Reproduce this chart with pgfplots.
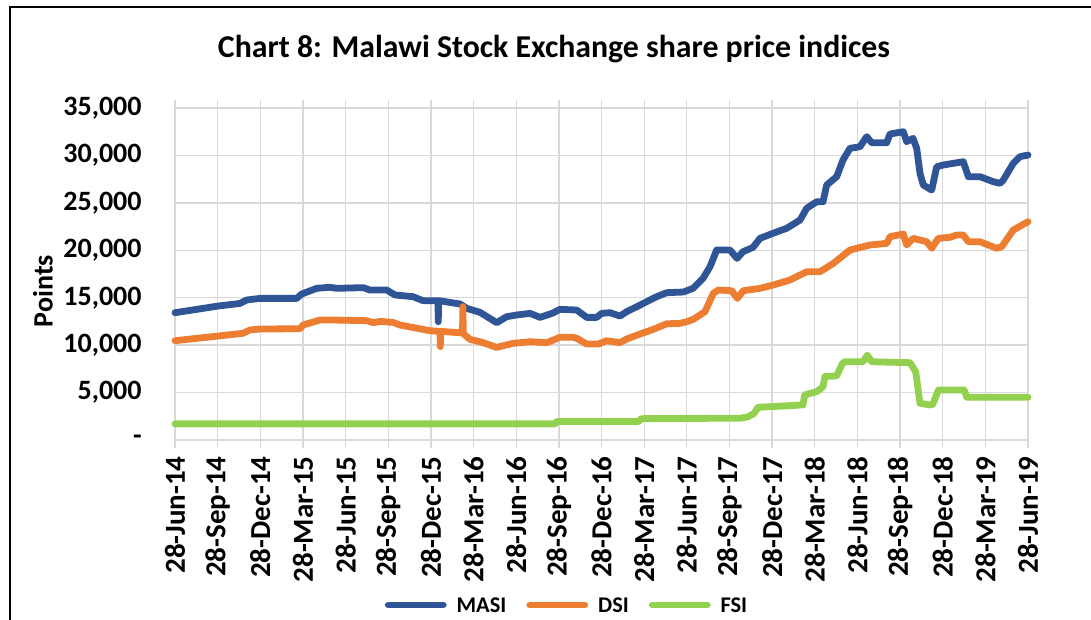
\documentclass[border=0pt]{standalone}
\usepackage{fontspec}
\setmainfont{Carlito}
\usepackage{pgfplots}
\pgfplotsset{compat=1.18}
\definecolor{masi}{HTML}{2F5597}
\definecolor{dsi}{HTML}{ED7D31}
\definecolor{fsi}{HTML}{92D050}
\definecolor{gridc}{HTML}{D9D9D9}
\begin{document}
\begin{tikzpicture}
\useasboundingbox (0,0) rectangle (545.5pt,-310pt);
\draw[line width=1pt, black] (5pt,-312pt) -- (5pt,-3.5pt) -- (548pt,-3.5pt);
\node[font=\bfseries\fontsize{15.9}{18}\selectfont] at (277pt,-24.5pt) {Chart 8: Malawi Stock Exchange share price indices};
\node[font=\bfseries\fontsize{14}{16}\selectfont, rotate=90] at (21.5pt,-145.5pt) {Points};
\begin{axis}[
  at={(87.5pt,-220pt)}, anchor=south west,
  scale only axis, width=426.5pt, height=166pt,
  xmin=0, xmax=60, ymin=0, ymax=35000,
  clip=false,
  scaled y ticks=false,
  axis line style={draw=gridc, line width=0.65pt},
  grid=major,
  grid style={draw=gridc, line width=0.65pt},
  tick align=outside,
  major tick length=4pt,
  xtick style={draw=gridc, line width=0.65pt},
  ytick style={draw=none},
  xtick={0,3,...,60},
  xticklabels={28-Jun-14,28-Sep-14,28-Dec-14,28-Mar-15,28-Jun-15,28-Sep-15,28-Dec-15,28-Mar-16,28-Jun-16,28-Sep-16,28-Dec-16,28-Mar-17,28-Jun-17,28-Sep-17,28-Dec-17,28-Mar-18,28-Jun-18,28-Sep-18,28-Dec-18,28-Mar-19,28-Jun-19},
  ytick={0,5000,...,35000},
  yticklabels={-,{5,000},{10,000},{15,000},{20,000},{25,000},{30,000},{35,000}},
  xticklabel style={yshift=-4pt, rotate=90, anchor=east, inner sep=0pt, font=\bfseries\fontsize{14.5}{16}\selectfont},
  yticklabel style={anchor=east, inner sep=0pt, xshift=-12.5pt, font=\bfseries\fontsize{14}{16}\selectfont},
  legend columns=3,
  legend style={at={(0.4584,-0.497)}, anchor=center, draw=none, fill=none, inner sep=0pt,
    font=\bfseries\fontsize{11.2}{13}\selectfont,
    /tikz/every even column/.append style={column sep=10pt},
    nodes={inner sep=0pt, text depth=0pt}},
  legend image code/.code={\draw[#1, line cap=round] (0pt,0pt) -- (27.5pt,0pt); \path (32.5pt,0pt);},
  every axis plot/.append style={line width=3.4pt, line join=round, line cap=round},
]
\addplot[masi] coordinates {
(0,13420) (3.025,14120) (4.572,14400) (5.043,14760) (5.979,14930) (8.560,14930) (8.912,15390) (9.967,15990) (10.903,16100) (11.374,15990) (13.245,16060) (13.716,15810) (14.891,15810) (15.475,15290) (16.741,15110) (17.444,14690) (18.499,14690) (18.52,12470) (18.54,14690) (20.047,14340) (20.518,13880) (21.454,13460) (22.628,12370) (23.332,13000) (24.035,13180) (24.971,13350) (25.674,12930) (26.589,13390) (27.081,13780) (28.256,13700) (28.959,12930) (29.662,12930) (30.014,13350) (30.598,13420) (31.301,13070) (31.773,13530) (32.476,14050) (33.179,14580) (33.883,15110) (34.586,15530) (35.754,15600) (36.436,15990) (37.140,17040) (37.632,18270) (38.103,20030) (39.039,20030) (39.531,19150) (39.953,19850) (40.657,20310) (41.149,21260) (42.063,21790) (43.027,22320) (43.963,23190) (44.434,24430) (45.137,25120) (45.580,25120) (45.841,26880) (46.544,27760) (46.987,29520) (47.480,30750) (48.183,30920) (48.654,31980) (49.006,31340) (50.061,31340) (50.293,32260) (51.229,32500) (51.468,31450) (51.911,31800) (52.171,30750) (52.403,28110) (52.635,26880) (53.226,26350) (53.578,28810) (54.042,28990) (54.746,29170) (55.449,29340) (55.801,27760) (56.624,27760) (57.559,27230) (58.031,27060) (58.263,27410) (58.966,29170) (59.437,29870) (60,30040)
};
\addlegendentry{MASI}
\addplot[dsi] coordinates {
(0,10470) (3.025,10960) (4.783,11250) (5.276,11600) (5.979,11700) (8.793,11730) (9.004,12120) (10.199,12650) (11.114,12650) (13.484,12580) (13.927,12370) (14.420,12500) (15.334,12400) (15.827,12120) (17.937,11520) (18.640,11450) (18.66,9840) (18.68,11450) (20.047,11310) (20.223,11310) (20.25,14050) (20.28,11200) (20.750,10610) (21.454,10360) (22.628,9770) (23.775,10190) (24.971,10360) (26.146,10260) (26.610,10540) (27.081,10830) (27.996,10830) (28.256,10720) (28.959,10120) (29.775,10120) (30.366,10470) (31.301,10260) (31.773,10650) (32.708,11170) (33.644,11670) (34.586,12250) (35.521,12300) (35.992,12470) (36.457,12720) (37.280,13530) (37.864,15460) (38.216,15810) (39.158,15740) (39.552,14930) (39.974,15740) (41.149,15990) (42.084,16340) (43.259,16870) (44.434,17740) (45.369,17740) (46.305,18620) (47.480,20030) (48.886,20560) (50.061,20730) (50.293,21430) (51.229,21720) (51.468,20560) (51.932,21260) (52.875,20900) (53.226,20210) (53.690,21260) (54.513,21370) (54.985,21610) (55.449,21610) (55.801,20900) (56.624,20900) (57.798,20210) (58.150,20380) (58.966,22140) (60,23010)
};
\addlegendentry{DSI}
\addplot[fsi] coordinates {
(0,1700) (26.73,1700) (26.85,1950) (32.6,1950) (32.8,2250) (39.8,2300) (40.31,2450) (40.73,2800) (41.01,3450) (43.0,3600) (44.17,3700) (44.29,4750) (45.14,5100) (45.58,5600) (45.72,6700) (46.54,6750) (46.92,8000) (47.1,8250) (48.4,8250) (48.7,8950) (49.0,8250) (51.7,8150) (52.1,7200) (52.4,3870) (53.1,3700) (53.3,3750) (53.7,5270) (55.5,5270) (55.7,4500) (60,4500)
};
\addlegendentry{FSI}
\end{axis}
\end{tikzpicture}
\end{document}
